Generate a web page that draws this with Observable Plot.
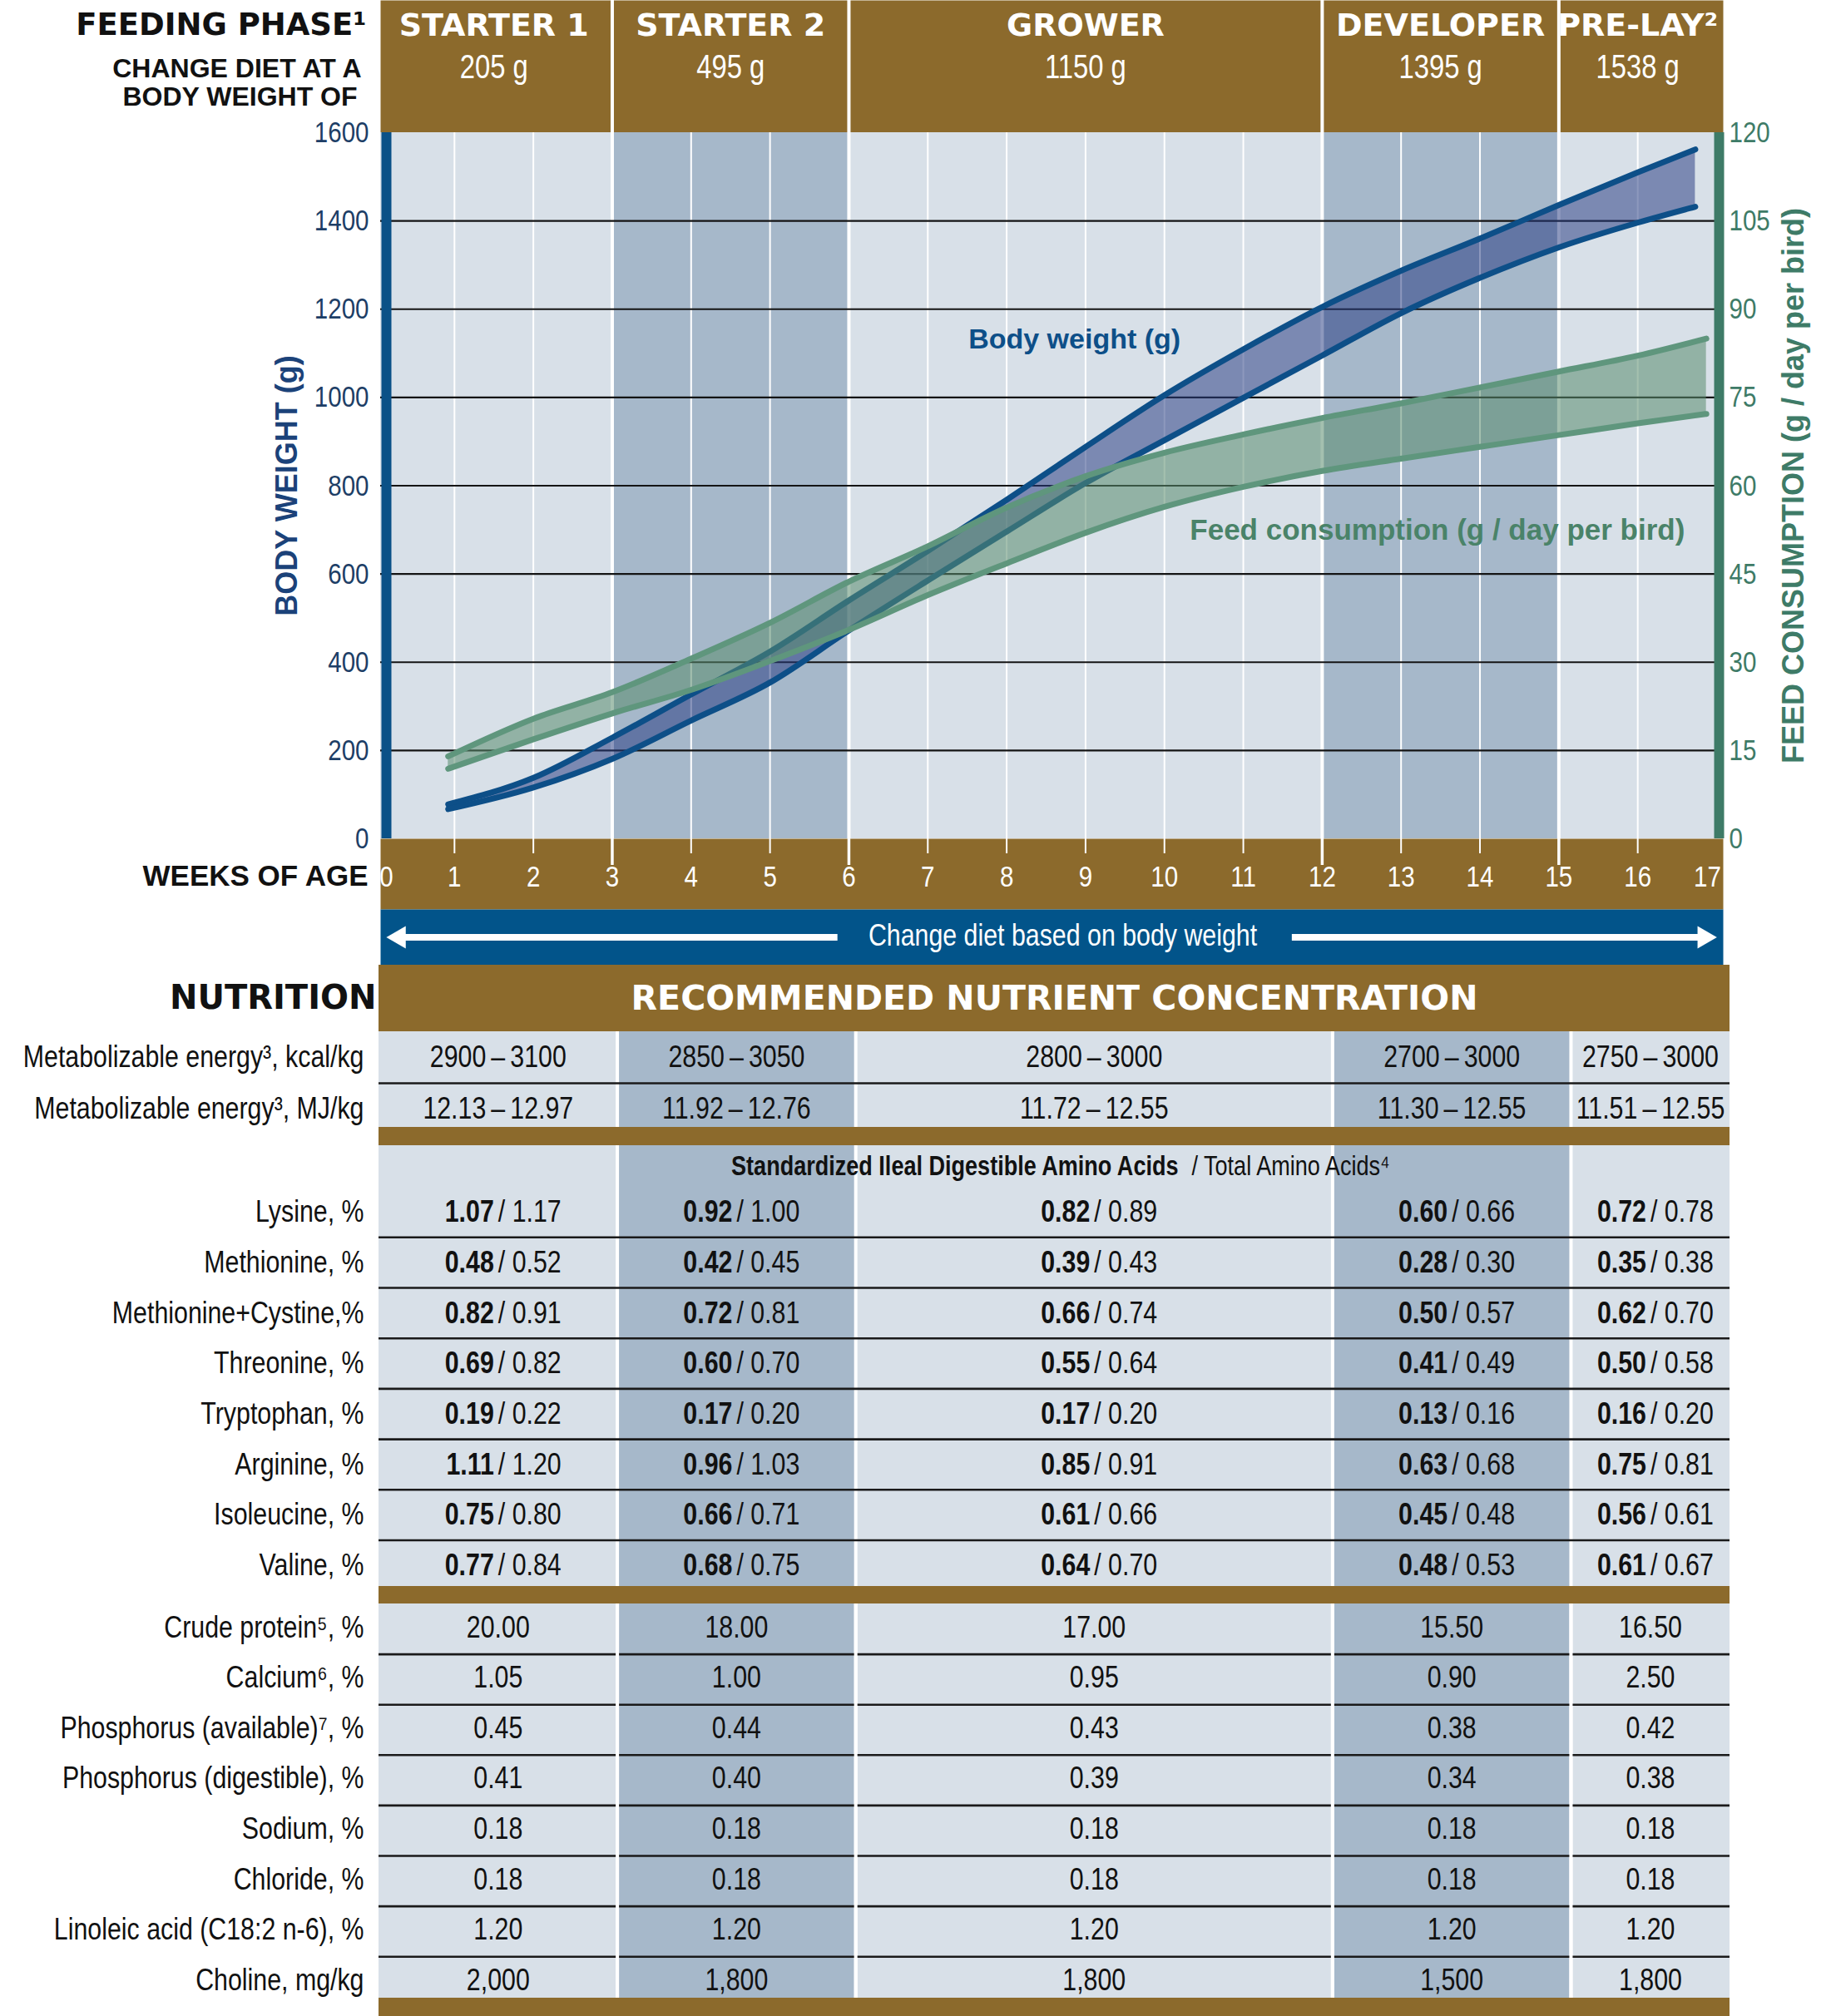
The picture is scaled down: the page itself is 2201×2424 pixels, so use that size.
<!DOCTYPE html>
<html>
<head>
<meta charset="utf-8">
<script src="https://cdn.jsdelivr.net/npm/d3@7"></script>
<script src="https://cdn.jsdelivr.net/npm/@observablehq/plot@0.6"></script>
<style>
  html, body { margin: 0; padding: 0; background: #ffffff; }
  #page { width: 2201px; }
  #page svg { display: block; }
</style>
</head>
<body>
<div id="page"></div>
<script>
// ---------------- DATA ----------------
const phaseNames = ["STARTER 1", "STARTER 2", "GROWER", "DEVELOPER", "PRE-LAY²"];
const changeWeights = ["205 g", "495 g", "1150 g", "1395 g", "1538 g"];
const phaseStartWeek = [0, 3, 6, 12, 15];
const phaseEndWeek = [3, 6, 12, 15, 17];
const weekTicks = [0, 1, 2, 3, 4, 5, 6, 7, 8, 9, 10, 11, 12, 13, 14, 15, 16, 17];

const bwWeeks = [0.92, 2, 3, 4, 5, 6, 7, 8, 9, 10, 11, 12, 13, 14, 15, 16, 16.73];
const bwUpper = [78, 138, 229, 327, 424, 540, 652, 768, 888, 1005, 1109, 1205, 1287, 1360, 1436, 1510, 1562];
const bwLower = [67, 116, 181, 268, 354, 472, 585, 696, 806, 903, 999, 1095, 1191, 1271, 1340, 1396, 1432];

const feedWeeks = [0.92, 2, 3, 4, 5, 6, 7, 8, 9, 10, 11, 12, 13, 14, 15, 16, 16.87];
const feedUpper = [14.0, 20.4, 24.9, 30.6, 36.7, 43.7, 49.7, 56.3, 61.6, 65.6, 68.7, 71.5, 74.0, 76.7, 79.4, 82.1, 85.0];
const feedLower = [11.9, 16.9, 21.3, 25.3, 30.2, 35.5, 41.4, 46.8, 52.0, 56.4, 59.8, 62.5, 64.6, 66.6, 68.6, 70.6, 72.2];

const bwTicks = [0, 200, 400, 600, 800, 1000, 1200, 1400, 1600];
const feedTicks = [0, 15, 30, 45, 60, 75, 90, 105, 120];

const seriesLabels = [
  {name: "Body weight (g)", week: 8.86, bw: 1131, kind: "bw"},
  {name: "Feed consumption (g / day per bird)", week: 13.46, feed: 52.4, kind: "feed"}
];
const dietArrows = [{from: 5.86, to: 0.30, dir: -90}, {from: 11.62, to: 16.84, dir: 90}];

const energyLabels = ["Metabolizable energy³, kcal/kg", "Metabolizable energy³, MJ/kg"];
const energyKcal = ["2900\u2009–\u20093100", "2850\u2009–\u20093050", "2800\u2009–\u20093000", "2700\u2009–\u20093000", "2750\u2009–\u20093000"];
const energyMJ = ["12.13\u2009–\u200912.97", "11.92\u2009–\u200912.76", "11.72\u2009–\u200912.55", "11.30\u2009–\u200912.55", "11.51\u2009–\u200912.55"];

const aminoLabels = ["Lysine, %", "Methionine, %", "Methionine+Cystine,%", "Threonine, %", "Tryptophan, %", "Arginine, %", "Isoleucine, %", "Valine, %"];
const aminoDigestible = [
  ["1.07", "0.92", "0.82", "0.60", "0.72"],
  ["0.48", "0.42", "0.39", "0.28", "0.35"],
  ["0.82", "0.72", "0.66", "0.50", "0.62"],
  ["0.69", "0.60", "0.55", "0.41", "0.50"],
  ["0.19", "0.17", "0.17", "0.13", "0.16"],
  ["1.11", "0.96", "0.85", "0.63", "0.75"],
  ["0.75", "0.66", "0.61", "0.45", "0.56"],
  ["0.77", "0.68", "0.64", "0.48", "0.61"]
];
const aminoTotal = [
  ["1.17", "1.00", "0.89", "0.66", "0.78"],
  ["0.52", "0.45", "0.43", "0.30", "0.38"],
  ["0.91", "0.81", "0.74", "0.57", "0.70"],
  ["0.82", "0.70", "0.64", "0.49", "0.58"],
  ["0.22", "0.20", "0.20", "0.16", "0.20"],
  ["1.20", "1.03", "0.91", "0.68", "0.81"],
  ["0.80", "0.71", "0.66", "0.48", "0.61"],
  ["0.84", "0.75", "0.70", "0.53", "0.67"]
];
const otherLabels = ["Crude protein⁵, %", "Calcium⁶, %", "Phosphorus (available)⁷, %", "Phosphorus (digestible), %", "Sodium, %", "Chloride, %", "Linoleic acid (C18:2 n-6), %", "Choline, mg/kg"];
const otherValues = [
  ["20.00", "18.00", "17.00", "15.50", "16.50"],
  ["1.05", "1.00", "0.95", "0.90", "2.50"],
  ["0.45", "0.44", "0.43", "0.38", "0.42"],
  ["0.41", "0.40", "0.39", "0.34", "0.38"],
  ["0.18", "0.18", "0.18", "0.18", "0.18"],
  ["0.18", "0.18", "0.18", "0.18", "0.18"],
  ["1.20", "1.20", "1.20", "1.20", "1.20"],
  ["2,000", "1,800", "1,800", "1,500", "1,800"]
];

// ---------------- STYLE ----------------
const BROWN = "#8c6a2c", LIGHT = "#d8e0e8", DARK = "#a6b8ca";
const BLUE_LINE = "#0d4f88", BLUE_FILL = "#283c82";
const GREEN_LINE = "#5f967d", GREEN_FILL = "#5a8c6e";
const AXIS_BLUE = "#0b5187", AXIS_GREEN = "#3e7b67", BAND_BLUE = "#02548a";
// condensed face: Liberation Sans squeezed horizontally (see condense())
const NARROW = "'Liberation Sans Narrow', 'Liberation Sans', Arial, sans-serif";
const HEAVY = "'DejaVu Sans', 'Liberation Sans', sans-serif";
const ARIAL = "'Liberation Sans', Arial, sans-serif";
const NARROW_SCALE = 0.82;
const svgStyle = {background: "transparent", overflow: "visible"};

const phases = phaseNames.map((name, i) => ({
  name, weight: changeWeights[i], start: phaseStartWeek[i], end: phaseEndWeek[i], i, dark: i % 2 === 1
}));
const boundaries = phaseStartWeek.slice(1);
const minorWeeks = weekTicks.filter(w => w > 0 && w < 17 && !boundaries.includes(w));
const K = 1600 / 120; // feed axis -> body weight axis
const mid = d => (d.start + d.end) / 2;

const common = {
  width: 2201, marginLeft: 457, marginRight: 130, marginTop: 0, marginBottom: 0,
  x: {type: "linear", domain: [0, 17], range: [451, 2063], axis: null},
  style: svgStyle
};

// ---------------- HEADER ----------------
const header = Plot.plot({
  ...common, height: 159,
  marks: [
    Plot.frame({fill: BROWN, stroke: "none"}),
    Plot.ruleX(boundaries, {stroke: "white", strokeWidth: 4}),
    Plot.text(phases, {x: mid, text: "name", frameAnchor: "top", lineAnchor: "middle", dy: 30,
      fill: "white", fontFamily: HEAVY, fontWeight: "bold", fontSize: 38}),
    Plot.text(phases, {x: mid, text: "weight", frameAnchor: "top", lineAnchor: "middle", dy: 81,
      fill: "white", fontFamily: NARROW, fontSize: 40}),
    Plot.text(["FEEDING PHASE¹"], {frameAnchor: "top-left", lineAnchor: "middle", dx: -17, dy: 30, textAnchor: "end",
      fill: "#111", fontFamily: HEAVY, fontWeight: "bold", fontSize: 37}),
    Plot.text(["CHANGE DIET AT A"], {frameAnchor: "top-left", lineAnchor: "middle", dx: -23, dy: 82, textAnchor: "end",
      fill: "#111", fontFamily: ARIAL, fontWeight: "bold", fontSize: 32}),
    Plot.text(["BODY WEIGHT OF"], {frameAnchor: "top-left", lineAnchor: "middle", dx: -28, dy: 116, textAnchor: "end",
      fill: "#111", fontFamily: ARIAL, fontWeight: "bold", fontSize: 32})
  ]
});

// ---------------- CHART ----------------
const bw = bwWeeks.map((week, i) => ({week, upper: bwUpper[i], lower: bwLower[i]}));
const feed = feedWeeks.map((week, i) => ({week, upper: feedUpper[i] * K, lower: feedLower[i] * K}));

const chart = Plot.plot({
  ...common, height: 849,
  y: {domain: [0, 1600], range: [849, 0], axis: null},
  marks: [
    Plot.rect(phases, {x1: "start", x2: "end", fill: d => d.dark ? DARK : LIGHT, clip: true}),
    Plot.ruleX(minorWeeks, {stroke: "white", strokeWidth: 2}),
    Plot.ruleX(boundaries, {stroke: "white", strokeWidth: 4}),
    Plot.ruleY(bwTicks.filter(t => t > 0 && t < 1600), {stroke: "#141414", strokeWidth: 2.2, clip: true}),
    Plot.areaY(bw, {x: "week", y1: "lower", y2: "upper", fill: BLUE_FILL, fillOpacity: 0.53, curve: "monotone-x"}),
    Plot.lineY(bw, {x: "week", y: "upper", stroke: BLUE_LINE, strokeWidth: 7, curve: "monotone-x", strokeLinecap: "round"}),
    Plot.lineY(bw, {x: "week", y: "lower", stroke: BLUE_LINE, strokeWidth: 7, curve: "monotone-x", strokeLinecap: "round"}),
    Plot.areaY(feed, {x: "week", y1: "lower", y2: "upper", fill: GREEN_FILL, fillOpacity: 0.55, curve: "monotone-x"}),
    Plot.lineY(feed, {x: "week", y: "upper", stroke: GREEN_LINE, strokeWidth: 7, curve: "monotone-x", strokeLinecap: "round"}),
    Plot.lineY(feed, {x: "week", y: "lower", stroke: GREEN_LINE, strokeWidth: 7, curve: "monotone-x", strokeLinecap: "round"}),
    Plot.ruleX([0], {stroke: AXIS_BLUE, strokeWidth: 12, dx: 13}),
    Plot.ruleX([17], {stroke: AXIS_GREEN, strokeWidth: 12, dx: 3}),
    Plot.text(bwTicks, {y: d => d, text: d => String(d), frameAnchor: "left", dx: -14, textAnchor: "end",
      fill: "#1d3e66", fontFamily: NARROW, fontSize: 36}),
    Plot.text(feedTicks, {y: d => d * K, text: d => String(d), frameAnchor: "right", dx: 7, textAnchor: "start",
      fill: AXIS_GREEN, fontFamily: NARROW, fontSize: 36}),
    Plot.text(["BODY WEIGHT (g)"], {frameAnchor: "left", dx: -112, rotate: -90, textAnchor: "middle",
      fill: "#1b4279", fontFamily: ARIAL, fontWeight: "bold", fontSize: 36}),
    Plot.text(["FEED CONSUMPTION (g / day per bird)"], {frameAnchor: "right", dx: 85, rotate: -90, textAnchor: "middle",
      fill: AXIS_GREEN, fontFamily: ARIAL, fontWeight: "bold", fontSize: 36}),
    Plot.text(seriesLabels.filter(d => d.kind === "bw"), {x: "week", y: "bw", text: "name",
      fill: BLUE_LINE, fontFamily: ARIAL, fontWeight: "bold", fontSize: 34}),
    Plot.text(seriesLabels.filter(d => d.kind === "feed"), {x: "week", y: d => d.feed * K, text: "name",
      fill: "#4a8369", fontFamily: ARIAL, fontWeight: "bold", fontSize: 35})
  ]
});

// ---------------- WEEKS AXIS BAND ----------------
const weeksBand = Plot.plot({
  ...common, height: 85,
  marks: [
    Plot.frame({fill: BROWN, stroke: "none"}),
    Plot.ruleX(minorWeeks, {stroke: "white", strokeWidth: 2, insetBottom: 67}),
    Plot.ruleX(boundaries, {stroke: "white", strokeWidth: 3.5, insetBottom: 53}),
    Plot.text(weekTicks.filter(w => w > 0 && w < 17), {x: d => d, text: d => String(d), frameAnchor: "middle", dy: 3,
      fill: "white", fontFamily: NARROW, fontSize: 36}),
    Plot.text(weekTicks.filter(w => w === 0), {x: d => d, text: d => String(d), frameAnchor: "middle", dy: 3, dx: 13,
      fill: "white", fontFamily: NARROW, fontSize: 36}),
    Plot.text(weekTicks.filter(w => w === 17), {x: d => d, text: d => String(d), frameAnchor: "middle", dy: 3, dx: -11,
      fill: "white", fontFamily: NARROW, fontSize: 36}),
    Plot.text(["WEEKS OF AGE"], {frameAnchor: "left", dx: -15, dy: 3, textAnchor: "end",
      fill: "#111", fontFamily: ARIAL, fontWeight: "bold", fontSize: 35})
  ]
});

// ---------------- DIET BAND ----------------
const dietBand = Plot.plot({
  ...common, height: 67,
  y: {domain: [0, 1], axis: null},
  marks: [
    Plot.frame({fill: BAND_BLUE, stroke: "none"}),
    Plot.ruleY(dietArrows, {y: () => 0.5, x1: "from", x2: "to", stroke: "white", strokeWidth: 8}),
    Plot.dot(dietArrows, {x: "to", y: () => 0.5, symbol: "triangle", rotate: "dir", r: 10, fill: "white", stroke: "none"}),
    Plot.text(["Change diet based on body weight"], {frameAnchor: "middle", dx: 13, dy: -2,
      fill: "white", fontFamily: NARROW, fontSize: 37})
  ]
});

// ---------------- TABLE ----------------
const T = {
  height: 1264, headerBottom: 80,
  energyTop: 80, energyRow: 62, sep1Top: 195, sep1Bottom: 217, subCenter: 242,
  aminoTop: 266.6, aminoRow: 60.7, sep2Top: 747, sep2Bottom: 768,
  otherTop: 768, otherRow: 60.6, otherTextShift: -2, bottomTop: 1242
};

const labelRows = [];
const valueCells = [];
const aminoCells = [];
energyLabels.forEach((label, r) => {
  const center = T.energyTop + T.energyRow * (r + 0.5);
  labelRows.push({label, center});
  const vals = r === 0 ? energyKcal : energyMJ;
  phases.forEach((p, c) => valueCells.push({x: mid(p), center, value: vals[c]}));
});
aminoLabels.forEach((label, r) => {
  const center = T.aminoTop + T.aminoRow * (r + 0.5);
  labelRows.push({label, center});
  phases.forEach((p, c) => aminoCells.push({x: mid(p), center, dig: aminoDigestible[r][c], total: aminoTotal[r][c]}));
});
otherLabels.forEach((label, r) => {
  const center = T.otherTop + T.otherRow * (r + 0.5) + T.otherTextShift;
  labelRows.push({label, center});
  phases.forEach((p, c) => valueCells.push({x: mid(p), center, value: otherValues[r][c]}));
});
const upperLines = [T.energyTop + T.energyRow].concat(aminoLabels.slice(1).map((_, i) => T.aminoTop + T.aminoRow * (i + 1)));
const lowerLines = otherLabels.slice(1).map((_, i) => T.otherTop + T.otherRow * (i + 1));
const brownBands = [
  {top: 0, bottom: T.headerBottom},
  {top: T.sep1Top, bottom: T.sep1Bottom},
  {top: T.sep2Top, bottom: T.sep2Bottom},
  {top: T.bottomTop, bottom: T.height}
];

const table = Plot.plot({
  width: 2201, height: T.height, marginLeft: 455, marginRight: 122, marginTop: 0, marginBottom: 0,
  x: {type: "linear", domain: [0, 17], range: [455, 2079], axis: null},
  y: {type: "linear", domain: [0, T.height], range: [0, T.height], axis: null},
  style: svgStyle,
  marks: [
    Plot.rect(phases, {x1: "start", x2: "end", y1: T.energyTop, y2: T.bottomTop, fill: d => d.dark ? DARK : LIGHT}),
    Plot.ruleX(boundaries, {y1: T.energyTop, y2: T.bottomTop, stroke: "white", strokeWidth: 4}),
    Plot.ruleY(upperLines, {x1: 0, x2: 17, stroke: "#1a1a1a", strokeWidth: 2.6}),
    Plot.ruleY(lowerLines, {x1: 0, x2: 17, stroke: "#1a1a1a", strokeWidth: 2.6}),
    Plot.ruleX(boundaries, {y1: T.otherTop, y2: T.bottomTop, stroke: "white", strokeWidth: 4}),
    Plot.rect(brownBands, {x1: 0, x2: 17, y1: "top", y2: "bottom", fill: BROWN}),
    Plot.text(["RECOMMENDED NUTRIENT CONCENTRATION"], {y: T.headerBottom / 2, fill: "white",
      fontFamily: HEAVY, fontWeight: "bold", fontSize: 41}),
    Plot.text(["NUTRITION"], {x: 0, y: T.headerBottom / 2, dx: -3, textAnchor: "end", fill: "#111",
      fontFamily: HEAVY, fontWeight: "bold", fontSize: 40}),
    Plot.text(["Standardized Ileal Digestible Amino Acids"], {y: T.subCenter, dx: 149, textAnchor: "end",
      fill: "#111", fontFamily: NARROW, fontWeight: "bold", fontSize: 33}),
    Plot.text(["/ Total Amino Acids⁴"], {y: T.subCenter, dx: 165, textAnchor: "start",
      fill: "#111", fontFamily: NARROW, fontSize: 33}),
    Plot.text(labelRows, {x: 0, y: "center", text: "label", dx: -18, textAnchor: "end",
      fill: "#111", fontFamily: NARROW, fontSize: 37}),
    Plot.text(valueCells, {x: "x", y: "center", text: "value",
      fill: "#111", fontFamily: NARROW, fontSize: 37}),
    Plot.text(aminoCells, {x: "x", y: "center", text: "dig", dx: -5, textAnchor: "end",
      fill: "#111", fontFamily: NARROW, fontWeight: "bold", fontSize: 37}),
    Plot.text(aminoCells, {x: "x", y: "center", text: d => "/\u00a0" + d.total, dx: 0, textAnchor: "start",
      fill: "#111", fontFamily: NARROW, fontSize: 37})
  ]
});

// squeeze the texts set in the condensed face (no condensed font is installed)
function condense(svg) {
  svg.querySelectorAll('g[font-family*="Narrow"] text').forEach(t => {
    const tr = t.getAttribute("transform");
    if (tr) {
      t.setAttribute("transform", tr + ` scale(${NARROW_SCALE},1)`);
    } else {
      const x = parseFloat(t.getAttribute("x")) || 0;
      t.setAttribute("transform", `translate(${x},0) scale(${NARROW_SCALE},1) translate(${-x},0)`);
    }
  });
  return svg;
}

const page = document.getElementById("page");
[header, chart, weeksBand, dietBand, table].forEach(el => page.appendChild(condense(el)));
</script>
</body>
</html>
